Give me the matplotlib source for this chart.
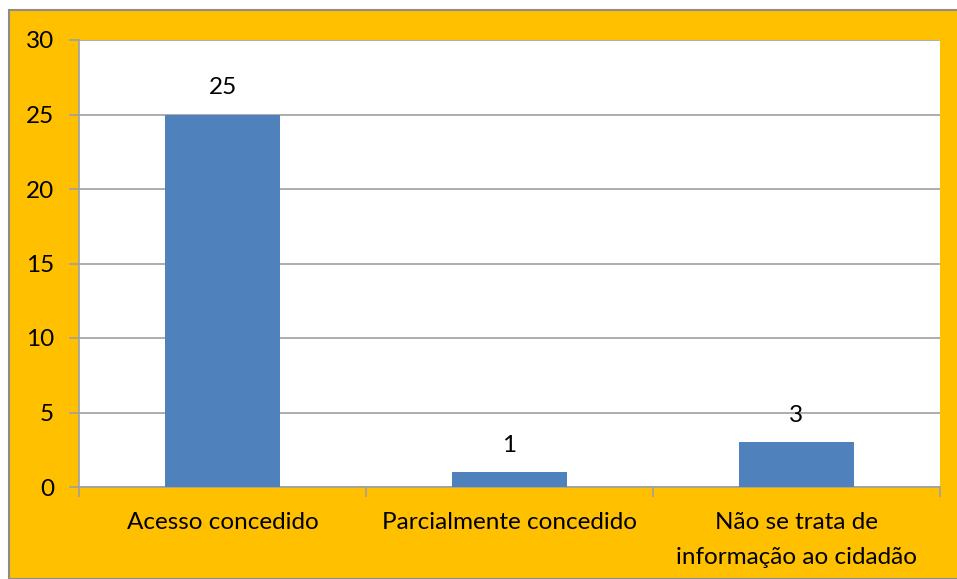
import matplotlib.pyplot as plt
import matplotlib.patches as mpatches
import numpy as np

categories = ["Acesso concedido", "Parcialmente concedido", "Não se trata de\ninformação ao cidadão"]
values = [25, 1, 3]
yticks = [0, 5, 10, 15, 20, 25, 30]

GOLD = "#FFC000"
BAR = "#4F81BD"
GRID = "#A0A0A0"
FS = 17.5

plt.rcParams['font.family'] = ['Lato', 'DejaVu Sans']

fig = plt.figure(figsize=(9.57, 5.79), dpi=100)
fig.patch.set_facecolor("white")
# gold chart area with grey border, kept behind the axes
bg = mpatches.Rectangle((9 / 957, 0), 1.0, 1 - 10 / 579, transform=fig.transFigure,
                        facecolor=GOLD, edgecolor="#8C8C8C", linewidth=1.5, zorder=-10)
fig.patches.append(bg)

ax = fig.add_axes([79 / 957, 1 - 487 / 579, (940 - 79) / 957, (487 - 40) / 579])
ax.set_facecolor("white")

x = np.arange(len(categories))
ax.bar(x, values, width=0.4, color=BAR, zorder=3)
for xi, v in zip(x, values):
    ax.text(xi, v + 1.8, str(v), ha="center", va="center", fontsize=FS)

ax.set_xlim(-0.5, len(categories) - 0.5)
ax.set_ylim(0, 30)
ax.set_yticks(yticks)
ax.tick_params(axis="y", labelsize=FS, length=7, color=GRID, width=1.2, pad=11)
ax.yaxis.grid(True, color=GRID, linewidth=1.2, zorder=0)
ax.set_axisbelow(True)

ax.set_xticks(x)
ax.set_xticklabels(categories, fontsize=FS, linespacing=1.8)
ax.tick_params(axis="x", length=0, pad=18)
ax.set_xticks(np.arange(len(categories) + 1) - 0.5, minor=True)
ax.tick_params(axis="x", which="minor", length=7, color=GRID, width=1.2)

for side in ["top", "right"]:
    ax.spines[side].set_visible(False)
for side in ["left", "bottom"]:
    ax.spines[side].set_color(GRID)
    ax.spines[side].set_linewidth(1.2)

fig.savefig("out.png", dpi=100)
